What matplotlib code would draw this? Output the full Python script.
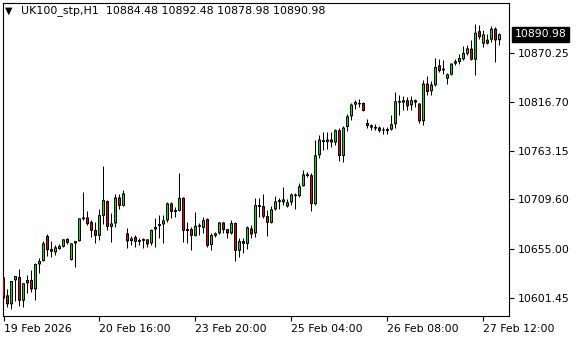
import matplotlib
matplotlib.use("Agg")
import matplotlib.pyplot as plt

symbol = "UK100_stp,H1"
opens = [
10623.4, 10604.1, 10594.3, 10620.6, 10624.2, 10598.2, 10617.3, 10620.9, 10610.7, 10638.1,
10641.8, 10669.2, 10654.9, 10651.3, 10654.9, 10657.5, 10666.2, 10642.9, 10661.2, 10663.7,
10687.8, 10689.7, 10684.9, 10675.8, 10669.5, 10691.5, 10707.6, 10679.4, 10683.1, 10711.6,
10702.4, 10672.2, 10663.7, 10668.1, 10664.8, 10664.0, 10665.6, 10661.2, 10676.5, 10680.2,
10682.0, 10686.4, 10705.1, 10695.8, 10696.9, 10711.2, 10676.9, 10676.9, 10669.5, 10679.4,
10678.3, 10687.8, 10659.3, 10669.5, 10672.2, 10684.2, 10676.9, 10672.2, 10683.5, 10653.1,
10663.7, 10660.7, 10677.6, 10672.2, 10703.2, 10702.1, 10691.1, 10683.8, 10698.5, 10706.8,
10709.5, 10701.8, 10706.2, 10713.1, 10713.1, 10724.0, 10735.3, 10736.1, 10704.3, 10758.0,
10772.6, 10772.6, 10775.3, 10772.0, 10785.5, 10757.3, 10789.1, 10800.8, 10813.7, 10814.0,
10815.4, 10793.5, 10791.0, 10789.1, 10788.4, 10785.2, 10784.7, 10786.2, 10792.1, 10815.9,
10815.9, 10818.4, 10812.9, 10818.4, 10814.8, 10795.4, 10836.7, 10828.3, 10834.9, 10856.8,
10853.2, 10842.2, 10846.6, 10858.7, 10860.4, 10863.4, 10869.6, 10875.1, 10863.0, 10894.4,
10880.6, 10885.0, 10885.0, 10897.1, 10884.48]
highs = [
10624.2, 10610.7, 10619.8, 10625.3, 10633.0, 10617.3, 10626.4, 10631.9, 10639.2, 10645.4,
10664.0, 10671.4, 10664.0, 10659.3, 10660.1, 10665.8, 10666.7, 10661.5, 10663.7, 10688.6,
10717.8, 10696.6, 10686.7, 10684.2, 10698.8, 10746.0, 10708.7, 10694.1, 10714.9, 10714.9,
10719.6, 10678.0, 10669.2, 10670.3, 10666.7, 10667.3, 10665.8, 10676.9, 10688.6, 10692.2,
10692.2, 10706.8, 10706.8, 10701.3, 10738.0, 10712.3, 10684.9, 10679.1, 10695.8, 10683.1,
10690.4, 10688.6, 10672.2, 10673.9, 10684.4, 10684.9, 10677.2, 10686.7, 10684.9, 10666.7,
10666.7, 10680.2, 10681.2, 10710.6, 10710.6, 10714.9, 10697.7, 10702.1, 10713.4, 10710.6,
10722.6, 10709.8, 10716.0, 10716.0, 10727.0, 10741.6, 10739.7, 10738.0, 10774.5, 10780.8,
10783.6, 10783.6, 10783.6, 10787.3, 10788.4, 10789.9, 10803.8, 10815.9, 10818.4, 10819.5,
10816.5, 10798.3, 10792.8, 10792.1, 10789.9, 10789.1, 10789.1, 10801.9, 10827.7, 10824.6,
10822.8, 10822.0, 10822.8, 10820.3, 10815.0, 10840.3, 10844.7, 10839.2, 10864.8, 10864.1,
10863.0, 10848.8, 10859.0, 10864.1, 10869.6, 10877.6, 10878.7, 10885.0, 10901.8, 10900.7,
10895.2, 10891.6, 10899.6, 10898.8, 10892.48]
lows = [
10600.8, 10591.6, 10589.4, 10598.2, 10592.4, 10591.0, 10606.3, 10608.1, 10599.0, 10628.3,
10641.5, 10647.2, 10646.5, 10648.3, 10654.5, 10657.2, 10660.4, 10642.6, 10635.5, 10663.4,
10686.7, 10681.2, 10668.4, 10661.2, 10664.8, 10682.3, 10675.8, 10662.9, 10679.0, 10698.8,
10702.1, 10655.7, 10659.3, 10657.5, 10659.3, 10655.7, 10657.5, 10659.3, 10657.5, 10666.7,
10661.2, 10684.9, 10688.6, 10690.4, 10696.6, 10662.9, 10661.2, 10653.8, 10669.2, 10670.3,
10672.2, 10657.5, 10653.8, 10668.4, 10671.9, 10672.2, 10666.7, 10671.4, 10642.1, 10646.5,
10650.2, 10654.9, 10666.7, 10667.8, 10690.4, 10688.6, 10669.5, 10683.1, 10697.7, 10698.8,
10703.2, 10700.7, 10703.2, 10698.5, 10712.3, 10723.7, 10733.6, 10696.9, 10703.2, 10755.1,
10763.5, 10765.4, 10767.2, 10769.0, 10751.8, 10750.7, 10784.4, 10796.5, 10809.3, 10811.0,
10806.4, 10788.4, 10785.5, 10786.2, 10783.6, 10781.9, 10781.9, 10785.9, 10788.4, 10801.9,
10808.2, 10807.4, 10807.4, 10811.0, 10793.9, 10791.7, 10824.6, 10824.6, 10833.8, 10849.4,
10847.7, 10836.7, 10846.3, 10856.8, 10858.7, 10862.3, 10868.5, 10862.3, 10845.8, 10886.1,
10876.9, 10879.8, 10882.4, 10860.4, 10878.98]
closes = [
10602.6, 10594.3, 10619.8, 10625.3, 10598.2, 10617.3, 10620.9, 10610.7, 10638.5, 10641.8,
10661.2, 10653.8, 10652.0, 10656.8, 10658.2, 10665.6, 10661.8, 10661.2, 10663.7, 10688.6,
10689.7, 10682.3, 10675.0, 10669.5, 10692.2, 10708.7, 10679.4, 10683.1, 10711.6, 10702.4,
10716.0, 10663.4, 10666.7, 10662.9, 10662.9, 10665.9, 10660.1, 10675.8, 10679.1, 10682.3,
10686.4, 10705.1, 10695.8, 10697.7, 10711.2, 10675.0, 10674.7, 10669.5, 10680.5, 10681.2,
10686.7, 10658.5, 10670.3, 10672.2, 10684.2, 10675.8, 10672.2, 10683.5, 10653.1, 10663.7,
10660.7, 10678.7, 10671.0, 10703.2, 10701.3, 10690.4, 10683.8, 10698.5, 10707.3, 10708.7,
10706.2, 10706.2, 10714.9, 10714.9, 10724.0, 10736.9, 10737.2, 10704.3, 10758.0, 10775.3,
10774.5, 10775.3, 10772.0, 10785.5, 10757.3, 10788.4, 10800.8, 10813.7, 10816.5, 10815.4,
10806.7, 10790.2, 10788.4, 10787.3, 10784.7, 10786.2, 10786.6, 10792.1, 10817.3, 10817.6,
10818.4, 10811.8, 10818.4, 10815.9, 10795.4, 10836.7, 10827.5, 10835.6, 10854.9, 10850.5,
10851.3, 10846.9, 10858.7, 10861.2, 10864.8, 10870.3, 10875.4, 10863.0, 10892.7, 10887.8,
10890.8, 10880.6, 10897.1, 10884.2, 10890.98]

price_ticks = [10601.45, 10655.00, 10709.60, 10763.15, 10816.70, 10870.25]
time_tick_bars = [0, 24, 48, 72, 96, 120]
time_tick_labels = ["19 Feb 2026", "20 Feb 16:00", "23 Feb 20:00",
                    "25 Feb 04:00", "26 Feb 08:00", "27 Feb 12:00"]

W, H = 580, 340
AX_L, AX_W = 3, 506          # pixels
AX_B, AX_H = 24, 313         # pixels from bottom
fig = plt.figure(figsize=(W / 100, H / 100), dpi=100)
ax = fig.add_axes([AX_L / W, AX_B / H, AX_W / W, AX_H / H])

YMIN, YMAX = 10581.4, 10925.3
px = (YMAX - YMIN) / AX_H       # price units per pixel

bull = "#00e600"
bear = "#e60000"
x = list(range(len(opens)))
ax.vlines(x, lows, highs, color="black", linewidth=0.72, zorder=2)

# outer black body (3 px wide)
bottoms = [min(o, c) for o, c in zip(opens, closes)]
heights = [max(abs(c - o), px) for o, c in zip(opens, closes)]
ax.bar(x, heights, bottom=bottoms, width=0.75, color="black",
       linewidth=0, snap=False, zorder=3)
# coloured fill inside (1 px wide)
fx, fb, fh, fc = [], [], [], []
for i, (o, c) in enumerate(zip(opens, closes)):
    if abs(c - o) > 2 * px:
        fx.append(i)
        fb.append(min(o, c) + px)
        fh.append(abs(c - o) - 2 * px)
        fc.append(bull if c >= o else bear)
ax.bar(fx, fh, bottom=fb, width=0.25, color=fc, linewidth=0,
       snap=False, zorder=4)

ax.set_xlim(-0.125, -0.125 + AX_W / 4)
ax.set_ylim(YMIN, YMAX)

for s in ax.spines.values():
    s.set_linewidth(0.8)
    s.set_color("black")

ax.yaxis.tick_right()
ax.set_yticks(price_ticks)
ax.set_yticklabels([f"{v:.2f}" for v in price_ticks])
ax.tick_params(axis="y", direction="out", length=3.5, width=0.8, pad=2.5,
               labelsize=7.8, colors="black")
ax.set_xticks(time_tick_bars)
ax.set_xticklabels(time_tick_labels)
ax.tick_params(axis="x", direction="out", length=3.5, width=0.8, pad=2.0,
               labelsize=7.8, colors="black")
for lab in ax.get_xticklabels():
    lab.set_horizontalalignment("left")

ax.annotate(f"{closes[-1]:.2f}", xy=(1.0, closes[-1]),
            xycoords=("axes fraction", "data"),
            xytext=(6, 0), textcoords="offset pixels",
            ha="left", va="center", fontsize=7.8, color="white",
            bbox=dict(boxstyle="square,pad=0.25", fc="black", ec="black"),
            annotation_clip=False)

header = f"{symbol}  {opens[-1]:.2f} {highs[-1]:.2f} {lows[-1]:.2f} {closes[-1]:.2f}"
fig.text(5 / W, 1 - 11 / H, "\u25BC", fontsize=7, va="center", ha="left", color="black")
fig.text(21 / W, 1 - 11 / H, header, fontsize=7.9, va="center", ha="left", color="black")

fig.savefig("out.png", dpi=100, facecolor="white")
